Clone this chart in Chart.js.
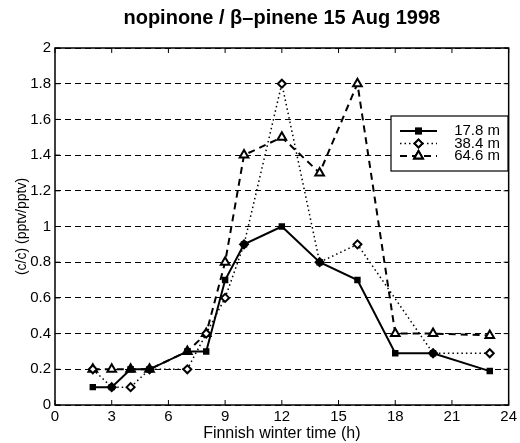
<!DOCTYPE html>
<html>
<head>
<meta charset="utf-8">
<script src="https://cdn.jsdelivr.net/npm/chart.js@4"></script>
<style>
  html, body { margin: 0; padding: 0; background: #fff; }
  #wrap { width: 520px; height: 443px; }
</style>
</head>
<body>
<div id="wrap"><canvas id="myChart" width="520" height="443"></canvas></div>
<script>
const hours = [2, 3, 4, 5, 7, 8, 9, 10, 12, 14, 16, 18, 20, 23];
const hours38 = [2, 3, 4, 5, 7, 8, 9, 10, 12, 14, 16, 20, 23];
const val178 = [0.1, 0.1, 0.2, 0.2, 0.3, 0.3, 0.7, 0.9, 1.0, 0.8, 0.7, 0.29, 0.29, 0.19];
const val384 = [0.2, 0.1, 0.1, 0.2, 0.2, 0.4, 0.6, 0.9, 1.8, 0.8, 0.9, 0.29, 0.29];
const val646 = [0.2, 0.2, 0.2, 0.2, 0.3, 0.4, 0.8, 1.4, 1.5, 1.3, 1.8, 0.4, 0.4, 0.39];
const seriesNames = ['17.8 m', '38.4 m', '64.6 m'];
const xTicks = [0, 3, 6, 9, 12, 15, 18, 21, 24];
const yTicks = [0, 0.2, 0.4, 0.6, 0.8, 1, 1.2, 1.4, 1.6, 1.8, 2];
const titleText = 'nopinone / \u03b2\u2013pinene 15 Aug 1998';

const FONT = "'Liberation Sans', Arial, sans-serif";

function pts(xs, ys) {
  return xs.map((x, i) => ({x: x, y: ys[i]}));
}

// frame, inward ticks, title and legend box drawn like the matlab figure
const framePlugin = {
  id: 'frame',
  afterDatasetsDraw(chart) {
    const {ctx, chartArea: a, scales} = chart;
    ctx.save();
    ctx.strokeStyle = '#000';
    ctx.lineWidth = 1.5;
    ctx.setLineDash([]);
    ctx.strokeRect(a.left, a.top, a.right - a.left, a.bottom - a.top);
    ctx.lineWidth = 1;
    ctx.beginPath();
    xTicks.forEach(t => {
      const px = scales.x.getPixelForValue(t);
      ctx.moveTo(px, a.bottom); ctx.lineTo(px, a.bottom - 5);
      ctx.moveTo(px, a.top); ctx.lineTo(px, a.top + 5);
    });
    yTicks.forEach(t => {
      const py = scales.y.getPixelForValue(t);
      ctx.moveTo(a.left, py); ctx.lineTo(a.left + 5, py);
      ctx.moveTo(a.right, py); ctx.lineTo(a.right - 5, py);
    });
    ctx.stroke();

    // title centred over the axes
    ctx.fillStyle = '#000';
    ctx.font = 'bold 20px ' + FONT;
    ctx.textAlign = 'center';
    ctx.textBaseline = 'middle';
    ctx.fillText(titleText, (a.left + a.right) / 2, 18);

    // legend
    const bx = 391, by = 116, bw = 117, bh = 55;
    ctx.fillStyle = '#fff';
    ctx.fillRect(bx, by, bw, bh);
    ctx.lineWidth = 1.2;
    ctx.strokeRect(bx, by, bw, bh);
    ctx.font = '15px ' + FONT;
    ctx.textAlign = 'right';
    ctx.textBaseline = 'middle';
    chart.data.datasets.forEach((ds, i) => {
      const y = by + 15 + i * 12.5;
      ctx.strokeStyle = '#000';
      ctx.lineWidth = ds.borderWidth;
      ctx.setLineDash(ds.borderDash || []);
      ctx.beginPath();
      ctx.moveTo(bx + 9, y); ctx.lineTo(bx + 46, y);
      ctx.stroke();
      ctx.setLineDash([]);
      Chart.helpers.drawPoint(ctx, {
        pointStyle: ds.pointStyle, radius: ds.pointRadius, borderWidth: ds.pointBorderWidth, rotation: 0
      }, bx + 27.5, y);
      ctx.fillStyle = ds.pointBackgroundColor;
      ctx.strokeStyle = '#000';
      ctx.lineWidth = ds.pointBorderWidth;
      ctx.fill();
      ctx.stroke();
      ctx.fillStyle = '#000';
      ctx.fillText(seriesNames[i], bx + bw - 8, y);
    });
    ctx.restore();
  }
};

const fmt = v => String(Number(Number(v).toFixed(1)));

const ctx = document.getElementById('myChart').getContext('2d');
const myChart = new Chart(ctx, {
  type: 'scatter',
  data: {
    datasets: [{
      label: seriesNames[0],
      data: pts(hours, val178),
      showLine: true,
      borderColor: '#000',
      borderWidth: 2,
      pointStyle: 'rect',
      pointRadius: 3.5,
      pointBorderWidth: 1.5,
      pointBackgroundColor: '#000',
      pointBorderColor: '#000'
    }, {
      label: seriesNames[1],
      data: pts(hours38, val384),
      showLine: true,
      borderColor: '#000',
      borderWidth: 1.5,
      borderDash: [1.5, 3],
      pointStyle: 'rectRot',
      pointRadius: 4,
      pointBorderWidth: 2,
      pointBackgroundColor: '#fff',
      pointBorderColor: '#000'
    }, {
      label: seriesNames[2],
      data: pts(hours, val646),
      showLine: true,
      borderColor: '#000',
      borderWidth: 2,
      borderDash: [7, 5],
      pointStyle: 'triangle',
      pointRadius: 5,
      pointBorderWidth: 2,
      pointBackgroundColor: '#fff',
      pointBorderColor: '#000'
    }]
  },
  options: {
    responsive: false,
    animation: false,
    layout: { padding: { left: 0, right: 0, top: 48, bottom: 0 } },
    plugins: {
      legend: { display: false },
      tooltip: { enabled: false },
      title: { display: false }
    },
    scales: {
      x: {
        type: 'linear',
        min: 0,
        max: 24,
        afterBuildTicks: s => { s.ticks = xTicks.map(v => ({value: v})); },
        afterFit: s => { s.height = 38; },
        ticks: { color: '#000', font: { family: FONT, size: 15 }, padding: 3, maxRotation: 0, callback: fmt },
        grid: { display: false, drawTicks: false },
        border: { display: false },
        title: {
          display: true,
          text: 'Finnish winter time (h)',
          color: '#000',
          font: { family: FONT, size: 16 },
          padding: { top: 0, bottom: 0 }
        }
      },
      y: {
        min: 0,
        max: 2,
        afterBuildTicks: s => { s.ticks = yTicks.map(v => ({value: v})); },
        afterFit: s => { s.width = 55; },
        ticks: { color: '#000', font: { family: FONT, size: 15 }, padding: 4, callback: fmt },
        grid: { color: '#000', lineWidth: 1, drawTicks: false },
        border: { display: false, dash: [6, 4] },
        title: {
          display: true,
          text: '(c/c) (pptv/pptv)',
          color: '#000',
          font: { family: FONT, size: 14 },
          padding: { top: 14, bottom: 0 }
        }
      }
    }
  },
  plugins: [framePlugin]
});
</script>
</body>
</html>
